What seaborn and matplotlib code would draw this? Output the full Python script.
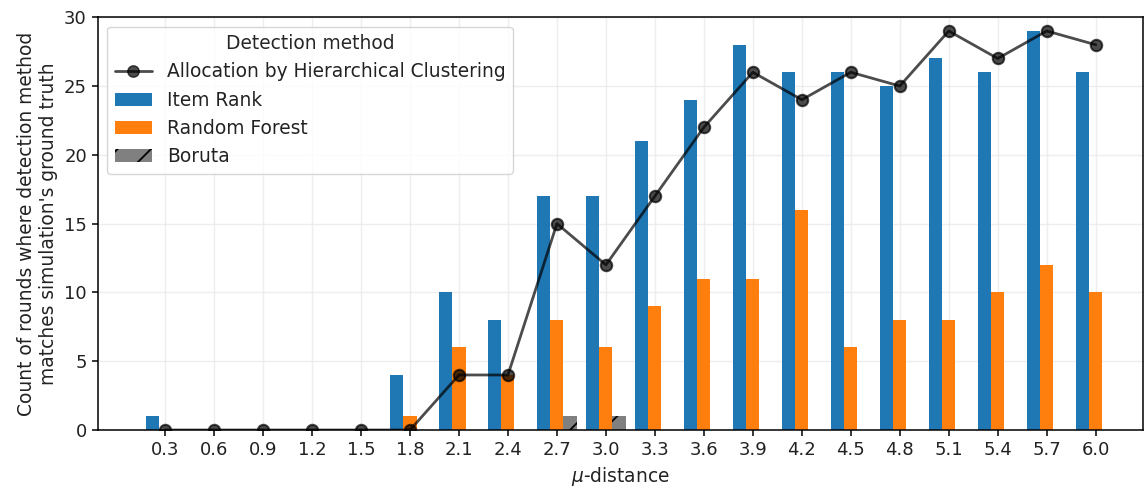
import matplotlib
matplotlib.use("Agg")
import matplotlib.pyplot as plt
from matplotlib.lines import Line2D
import seaborn as sns
import pandas as pd

mu_labels = ["0.3", "0.6", "0.9", "1.2", "1.5", "1.8", "2.1", "2.4", "2.7", "3.0",
             "3.3", "3.6", "3.9", "4.2", "4.5", "4.8", "5.1", "5.4", "5.7", "6.0"]
item_rank = [1, 0, 0, 0, 0, 4, 10, 8, 17, 17, 21, 24, 28, 26, 26, 25, 27, 26, 29, 26]
random_forest = [0, 0, 0, 0, 0, 1, 6, 4, 8, 6, 9, 11, 11, 16, 6, 8, 8, 10, 12, 10]
boruta = [0, 0, 0, 0, 0, 0, 0, 0, 1, 1, 0, 0, 0, 0, 0, 0, 0, 0, 0, 0]
hier_clust = [0, 0, 0, 0, 0, 0, 4, 4, 15, 12, 17, 22, 26, 24, 26, 25, 29, 27, 29, 28]

methods = ["Item Rank", "Random Forest", "Boruta"]
colors = ["#1f77b4", "#ff7f0e", "#808080"]

df = pd.DataFrame({
    "mu": mu_labels * 3,
    "count": item_rank + random_forest + boruta,
    "method": [m for m in methods for _ in mu_labels],
})

sns.set_style("ticks")
plt.rcParams["font.family"] = ["DejaVu Sans"]
plt.rcParams["hatch.linewidth"] = 1.3

FS = 13.4

fig = plt.figure(figsize=(11.45, 4.92), dpi=100)
ax = fig.add_axes([0.0856, 0.126, 0.9124, 0.839])

sns.barplot(data=df, x="mu", y="count", hue="method", hue_order=methods,
            palette=colors, saturation=1, width=0.8, ax=ax, legend=False,
            order=mu_labels, linewidth=0)

for p in ax.containers[2]:
    p.set_hatch("/")
    p.set_edgecolor("black")
    p.set_linewidth(0)

sns.pointplot(x=mu_labels, y=hier_clust, order=mu_labels, color="black",
              markers="o", linestyles="-", ax=ax, alpha=0.7,
              markersize=8.2, linewidth=2.0)
for ln in ax.lines:
    ln.set_zorder(5)

ax.set_xlim(-1.37, 19.96)
ax.set_ylim(0, 30)
ax.set_yticks([0, 5, 10, 15, 20, 25, 30])
ax.grid(True, color="#e4e4e4", alpha=0.6, linewidth=1.0)
ax.set_axisbelow(True)
for s in ax.spines.values():
    s.set_visible(True)
    s.set_color("black")
    s.set_linewidth(1.1)
ax.tick_params(axis="both", labelsize=13, length=4.5, width=1.1, colors="black")
for t in ax.get_xticklabels() + ax.get_yticklabels():
    t.set_color("#222222")

ax.set_xlabel(r"$\mu$-distance", fontsize=FS, color="#222222")
ax.set_ylabel("Count of rounds where detection method\nmatches simulation's ground truth",
              fontsize=FS, color="#222222")

line_handle = Line2D([], [], color="black", marker="o", markersize=8.2,
                     linewidth=2.0, alpha=0.7)
handles = [line_handle] + list(ax.containers[:3])
labels = ["Allocation by Hierarchical Clustering"] + methods
leg = ax.legend(handles, labels, title="Detection method", loc="upper left",
                fontsize=FS, title_fontsize=FS, frameon=True)
for t in leg.get_texts():
    t.set_color("#222222")

fig.savefig("out.png", dpi=100)
